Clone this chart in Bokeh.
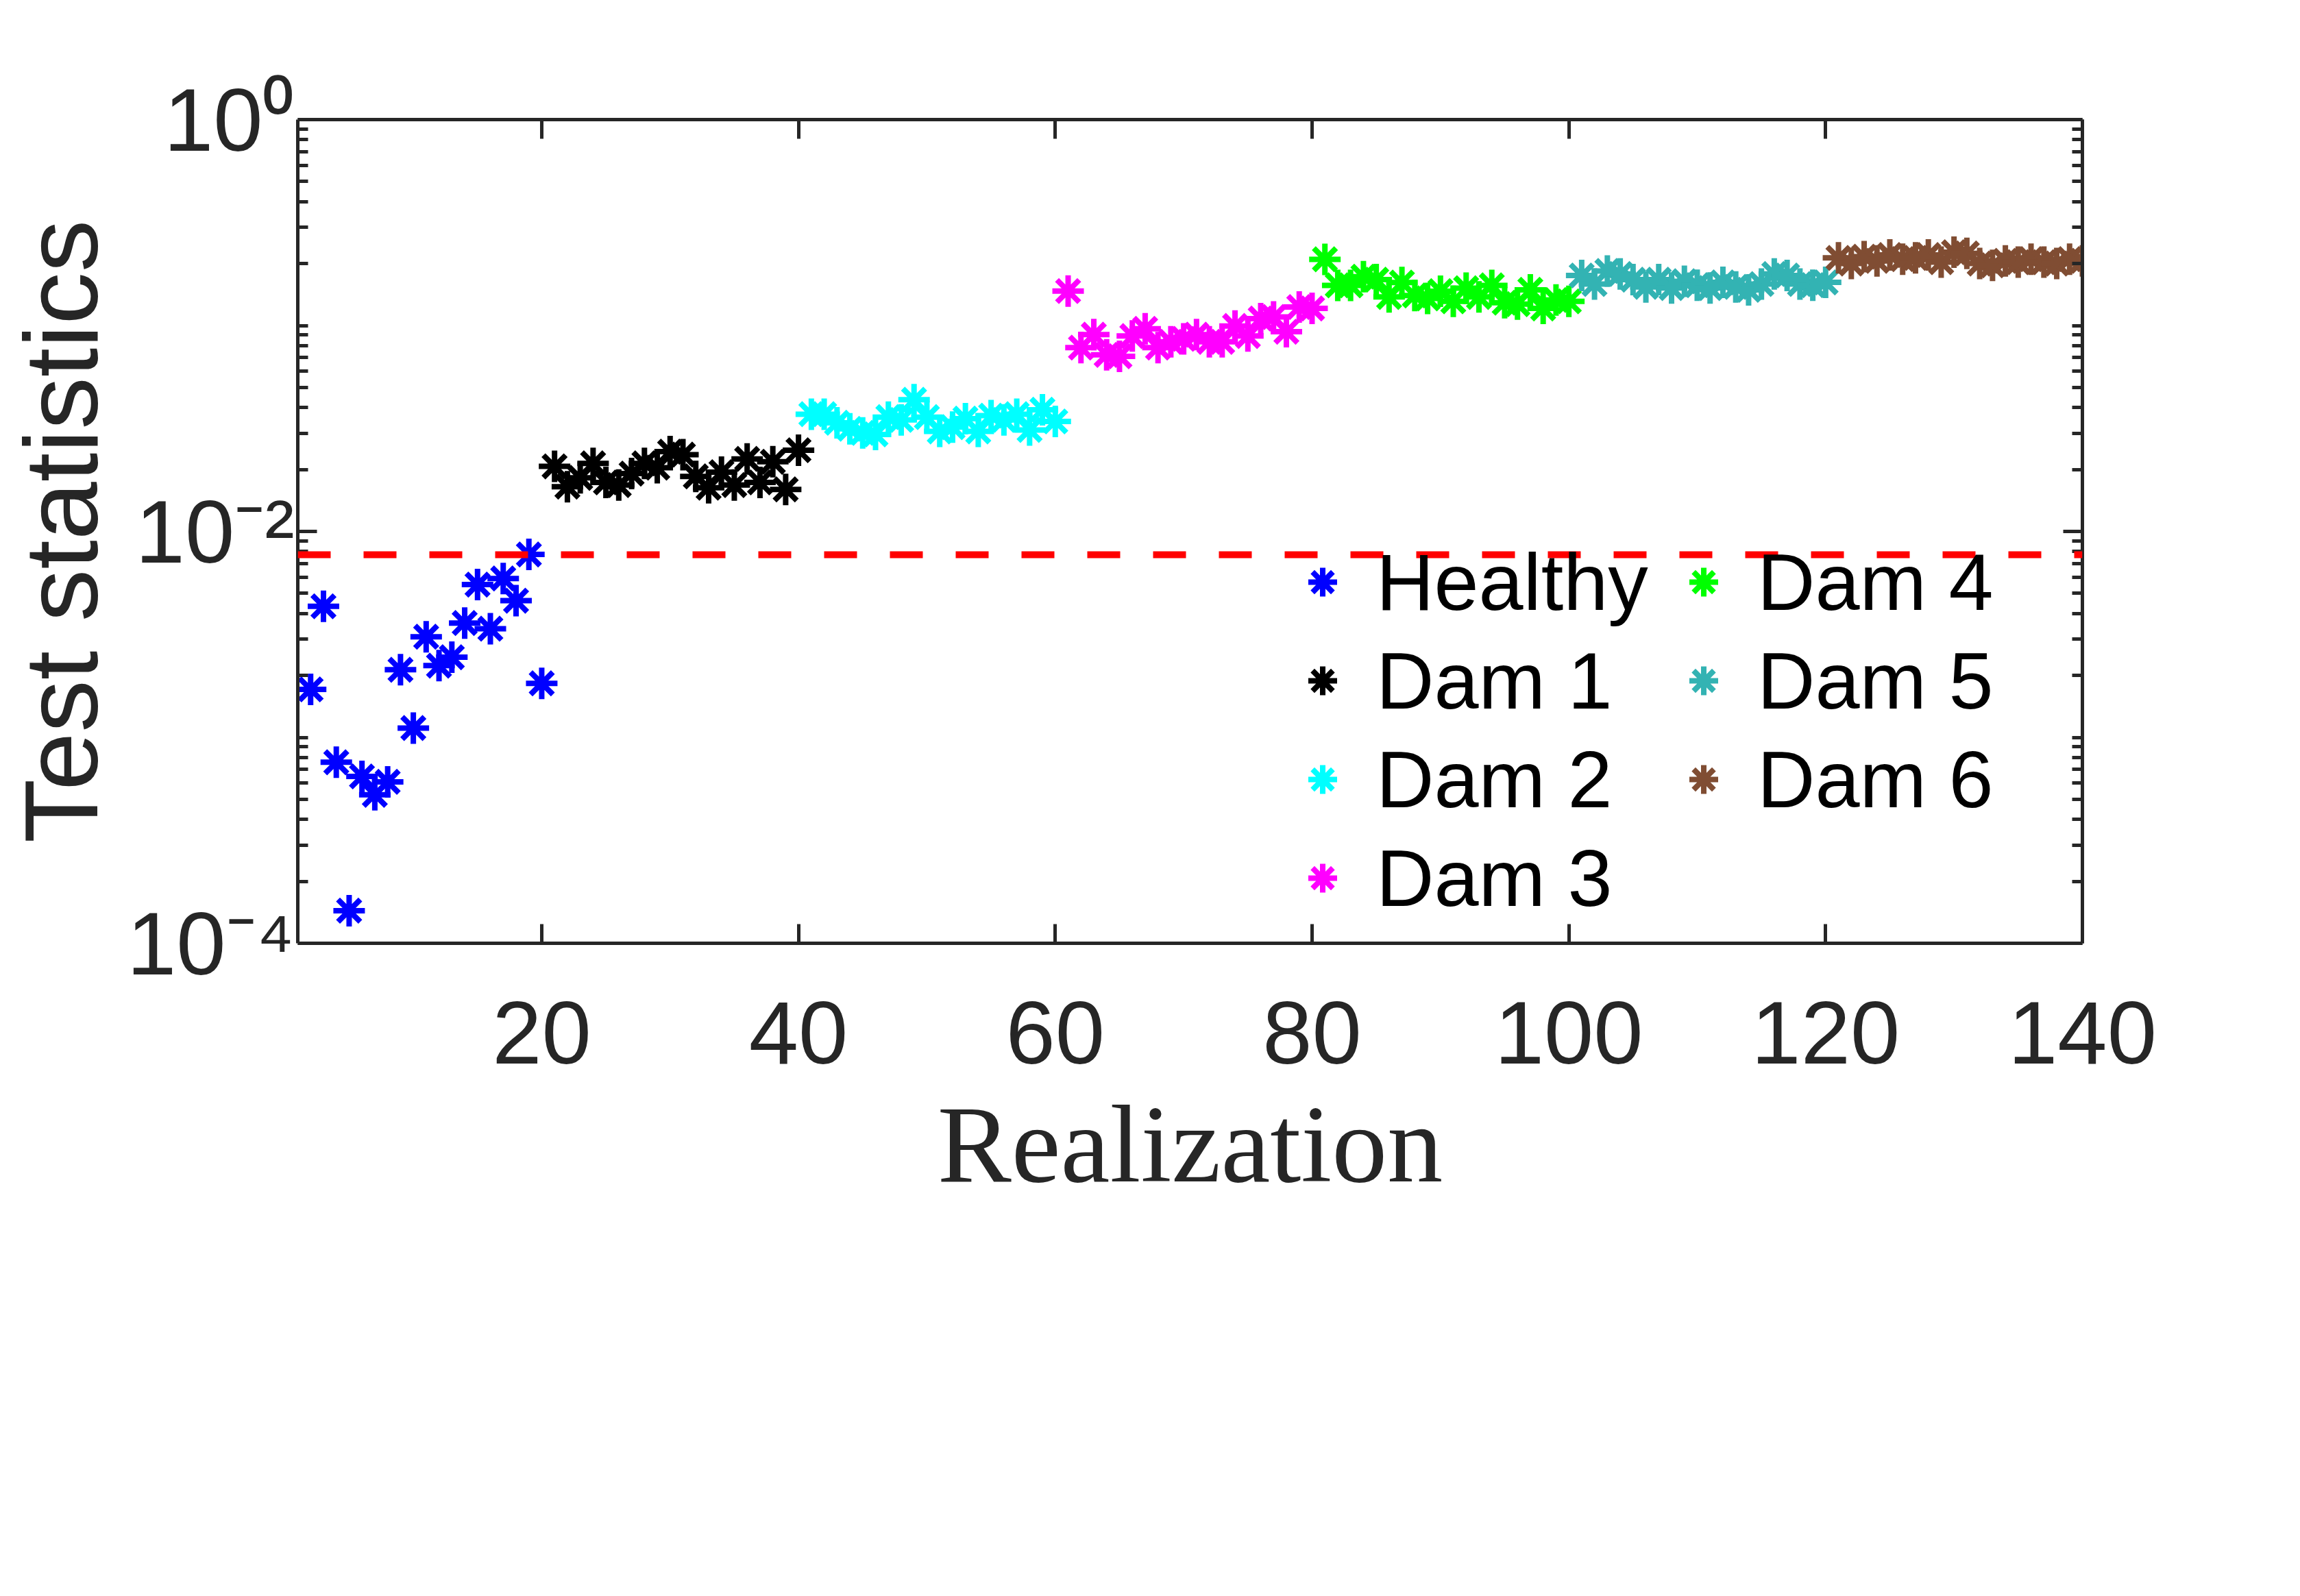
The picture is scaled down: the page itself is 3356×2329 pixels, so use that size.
from bokeh.plotting import figure
from bokeh.models import (FixedTicker, LinearAxis, LogAxis, Span, Legend, LegendItem,
                          CustomJSTickFormatter)
from bokeh.embed import file_html
from bokeh.resources import INLINE

# ---------------- data ----------------
healthy_x = list(range(2, 21))
healthy = [1.71e-3, 4.33e-3, 7.57e-4, 1.44e-4, 6.46e-4, 5.26e-4, 6.08e-4, 2.13e-3, 1.11e-3, 3.08e-3,
           2.23e-3, 2.45e-3, 3.59e-3, 5.52e-3, 3.37e-3, 5.91e-3, 4.61e-3, 7.73e-3, 1.83e-3]

dam1_x = list(range(21, 41))
dam1 = [0.0207, 0.0165, 0.0182, 0.0214, 0.0173, 0.0168, 0.0191, 0.0214, 0.0204, 0.0244,
        0.0236, 0.0185, 0.0163, 0.0194, 0.0168, 0.0225, 0.0173, 0.0218, 0.0160, 0.0248]

dam2_x = list(range(41, 61))
dam2 = [0.0371, 0.0371, 0.0337, 0.0315, 0.0301, 0.0296, 0.0359, 0.0348, 0.0436, 0.0359,
        0.0306, 0.0321, 0.0353, 0.0306, 0.0365, 0.0348, 0.0371, 0.0311, 0.0390, 0.0342]

dam3_x = list(range(61, 81))
dam3 = [0.147, 0.0781, 0.0903, 0.0720, 0.0709, 0.0889, 0.0964, 0.0781, 0.0833, 0.0861,
        0.0903, 0.0833, 0.0833, 0.0995, 0.0889, 0.108, 0.110, 0.0933, 0.123, 0.121]

dam4_x = list(range(81, 101))
dam4 = [0.2096, 0.1566, 0.1566, 0.1726, 0.167, 0.1376, 0.1617, 0.1399, 0.1354, 0.1468,
        0.131, 0.1517, 0.1376, 0.1566, 0.129, 0.127, 0.149, 0.121, 0.133, 0.131]

dam5_x = list(range(101, 121))
dam5 = [0.175, 0.159, 0.184, 0.178, 0.167, 0.154, 0.167, 0.152, 0.164, 0.157,
        0.152, 0.162, 0.154, 0.149, 0.159, 0.178, 0.175, 0.159, 0.157, 0.162]

dam6_x = list(range(121, 141))
dam6 = [0.213, 0.200, 0.216, 0.206, 0.220, 0.210, 0.213, 0.220, 0.203, 0.227,
        0.224, 0.200, 0.196, 0.206, 0.203, 0.210, 0.203, 0.200, 0.210, 0.206]

threshold = 0.0077

series_names = ["Healthy", "Dam 1", "Dam 2", "Dam 3", "Dam 4", "Dam 5", "Dam 6"]
series_colors = ["#0000FF", "#000000", "#00FFFF", "#FF00FF", "#00FF00", "#33B3B3", "#804D33"]

x_ticks = [20, 40, 60, 80, 100, 120, 140]
y_ticks = [1e-4, 1e-2, 1.0]
y_tick_labels = ["10\u207b\u2074", "10\u207b\u00b2", "10\u2070"]

# ---------------- figure ----------------
AX = "#262626"
p = figure(width=3340, height=2313, x_range=(1, 140), y_range=(1e-4, 1), y_axis_type="log",
           output_backend="svg", toolbar_location=None,
           min_border_left=429, min_border_right=302, min_border_top=174, min_border_bottom=937)
p.xgrid.visible = False
p.ygrid.visible = False
p.outline_line_color = None
p.background_fill_color = "white"
p.border_fill_color = "white"

minor_y = [k * 10.0 ** e for e in range(-4, 0) for k in range(1, 10) if not (k == 1 and e in (-4, -2))]
yticker = FixedTicker(ticks=y_ticks, minor_ticks=minor_y)
xticker = FixedTicker(ticks=x_ticks, minor_ticks=[])


def style_axis(ax):
    ax.axis_line_color = AX
    ax.axis_line_width = 5
    ax.major_tick_line_color = AX
    ax.major_tick_line_width = 5
    ax.minor_tick_line_color = AX
    ax.minor_tick_line_width = 5
    ax.major_tick_in = 28
    ax.major_tick_out = 0
    ax.minor_tick_in = 15
    ax.minor_tick_out = 0
    ax.major_label_text_font = "Liberation Sans"
    ax.major_label_text_font_size = "130px"
    ax.major_label_text_color = AX


xa = p.xaxis[0]
xa.ticker = xticker
style_axis(xa)
xa.major_label_standoff = 85
xa.axis_label = "Realization"
xa.axis_label_text_font = "Liberation Serif"
xa.axis_label_text_font_size = "162px"
xa.axis_label_text_font_style = "normal"
xa.axis_label_text_color = AX
xa.axis_label_standoff = 25

ya = p.yaxis[0]
ya.ticker = yticker
style_axis(ya)
ya.major_label_overrides = {float(t): s for t, s in zip(y_ticks, y_tick_labels)}
ya.major_label_standoff = 5
ya.axis_label = "Test statistics"
ya.axis_label_text_font = "Liberation Sans"
ya.axis_label_text_font_size = "153px"
ya.axis_label_text_font_style = "normal"
ya.axis_label_text_color = AX
ya.axis_label_standoff = 8

top = LinearAxis(ticker=xticker, formatter=CustomJSTickFormatter(code="return ''"))
style_axis(top)
top.major_label_standoff = 0
p.add_layout(top, "above")
right = LogAxis(ticker=yticker, formatter=CustomJSTickFormatter(code="return ''"))
style_axis(right)
right.major_label_standoff = 0
p.add_layout(right, "right")

# ---------------- data glyphs ----------------
xs = [healthy_x, dam1_x, dam2_x, dam3_x, dam4_x, dam5_x, dam6_x]
ys = [healthy, dam1, dam2, dam3, dam4, dam5, dam6]
renderers = []
for x, y, c in zip(xs, ys, series_colors):
    r = p.scatter(x, y, marker="asterisk", size=46, line_color=c, line_width=8)
    renderers.append(r)

p.add_layout(Span(location=threshold, dimension="width", line_color="#FF0000",
                  line_width=10, line_dash="48 48"))

# ---------------- legends ----------------
def make_legend(idx, loc):
    lg = Legend(items=[LegendItem(label=series_names[i], renderers=[renderers[i]]) for i in idx],
                location=loc, orientation="vertical", glyph_width=105, glyph_height=144,
                label_height=144, label_standoff=26, spacing=0, padding=0, margin=0,
                border_line_color=None, background_fill_alpha=0,
                label_text_font="Liberation Sans", label_text_font_size="117px",
                label_text_color="black")
    return lg

p.add_layout(make_legend([0, 1, 2, 3], (1443, 23)))
p.add_layout(make_legend([4, 5, 6], (1999, 167)))

open("out.html", "w").write(file_html(p, INLINE))
